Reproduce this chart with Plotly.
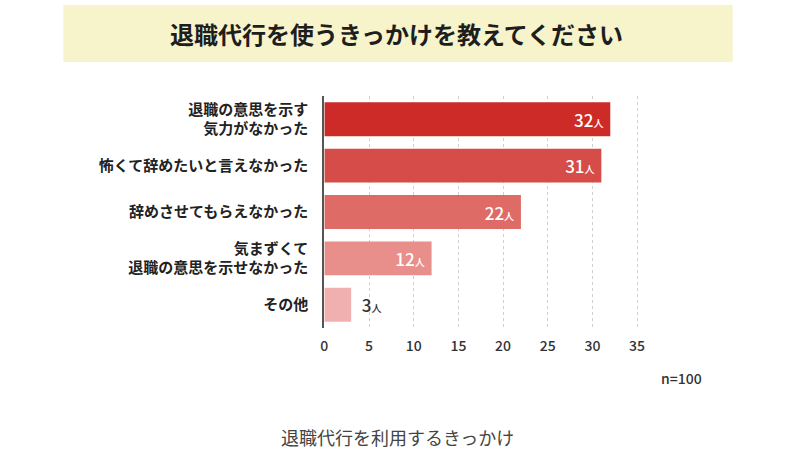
import plotly.graph_objects as go

categories = [
    "退職の意思を示す<br>気力がなかった",
    "怖くて辞めたいと言えなかった",
    "辞めさせてもらえなかった",
    "気まずくて<br>退職の意思を示せなかった",
    "その他",
]
values = [32, 31, 22, 12, 3]
unit = "人"
bar_colors = ["#cc2b28", "#d64c48", "#df6b67", "#e88f8c", "#f0b0af"]
x_ticks = [0, 5, 10, 15, 20, 25, 30, 35]
title = "退職代行を使うきっかけを教えてください"
note = "n=100"
caption = "退職代行を利用するきっかけ"

FONT = "Noto Sans CJK JP"
H = 455

positions = ["inside" if v > 5 else "outside" for v in values]
labels = [
    (f"{v}<span style='font-size:10px'>{unit}</span> " if p == "inside"
     else f"  {v}<span style='font-size:10px'>{unit}</span>")
    for v, p in zip(values, positions)
]

fig = go.Figure(
    go.Bar(
        x=values,
        y=categories,
        orientation="h",
        marker=dict(color=bar_colors, line=dict(width=0)),
        width=0.73,
        text=labels,
        textposition=positions,
        insidetextanchor="end",
        insidetextfont=dict(color="white", size=17, family=FONT, weight=500),
        outsidetextfont=dict(color="#333333", size=17, family=FONT, weight=500),
        textangle=0,
        cliponaxis=False,
        hoverinfo="skip",
    )
)

fig.update_layout(
    width=800,
    height=455,
    margin=dict(l=0, r=0, t=0, b=0),
    paper_bgcolor="white",
    plot_bgcolor="white",
    showlegend=False,
    font=dict(family=FONT, color="#333333"),
    xaxis=dict(
        domain=[324 / 800, 643 / 800],
        range=[0, 35.3],
        tickvals=x_ticks,
        showgrid=True,
        gridcolor="#cfcfcf",
        griddash="dot",
        gridwidth=1,
        zeroline=False,
        showline=False,
        ticks="",
        ticklabelstandoff=8,
        tickfont=dict(size=14, color="#333333", family=FONT, weight=500),
    ),
    yaxis=dict(
        domain=[1 - 328 / H, 1 - 96 / H],
        autorange="reversed",
        showgrid=False,
        zeroline=False,
        showline=True,
        linecolor="#555555",
        linewidth=2,
        ticks="",
        ticklabelstandoff=11,
        tickfont=dict(size=15, color="#222222", family=FONT, weight=700),
    ),
    shapes=[
        dict(
            type="rect", xref="paper", yref="paper",
            x0=60 / 800, x1=737 / 800, y0=1 - 62 / H, y1=1 - 5 / H,
            fillcolor="#f7f4cb", line=dict(width=0), layer="below",
        )
    ],
    annotations=[
        dict(
            text=title, xref="paper", yref="paper",
            x=397 / 800, y=1 - 34 / H, xanchor="center", yanchor="middle",
            showarrow=False, font=dict(size=24, color="#1e1e1e", family=FONT, weight=700),
        ),
        dict(
            text=note, xref="paper", yref="paper",
            x=708 / 800, y=1 - 378 / H, xanchor="right", yanchor="middle",
            showarrow=False, font=dict(size=14, color="#333333", family=FONT, weight=500),
        ),
        dict(
            text=caption, xref="paper", yref="paper",
            x=398 / 800, y=1 - 437 / H, xanchor="center", yanchor="middle",
            showarrow=False, font=dict(size=18, color="#444444", family=FONT),
        ),
    ],
)

fig.write_html("out.html")
